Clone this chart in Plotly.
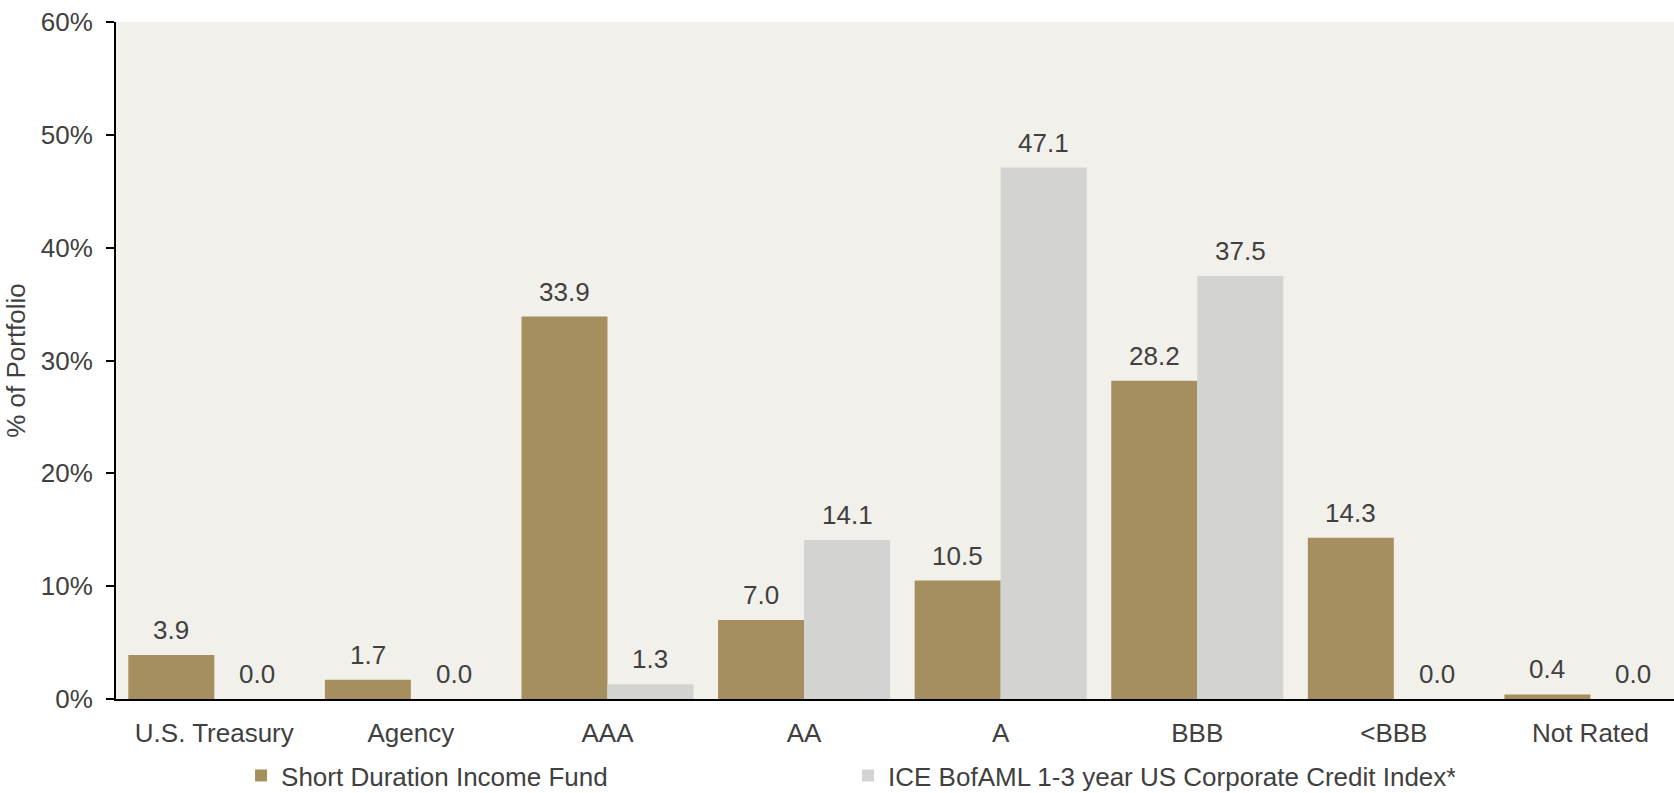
import plotly.graph_objects as go

categories = ["U.S. Treasury", "Agency", "AAA", "AA", "A", "BBB", "<BBB", "Not Rated"]
fund_values = [3.9, 1.7, 33.9, 7.0, 10.5, 28.2, 14.3, 0.4]
index_values = [0.0, 0.0, 1.3, 14.1, 47.1, 37.5, 0.0, 0.0]
fund_name = "Short Duration Income Fund"
index_name = "ICE BofAML 1-3 year US Corporate Credit Index*"
y_ticks = [0, 10, 20, 30, 40, 50, 60]
y_tick_labels = ["0%", "10%", "20%", "30%", "40%", "50%", "60%"]

FUND_COLOR = "#A58F5F"
INDEX_COLOR = "#D3D3D1"
TEXT_COLOR = "#404040"
FONT = "Arial, Liberation Sans, sans-serif"
FS = 26

xs = list(range(len(categories)))
fig = go.Figure()
fig.add_trace(go.Bar(x=xs, y=fund_values, name=fund_name, marker_color=FUND_COLOR,
                     marker_line_width=0))
fig.add_trace(go.Bar(x=xs, y=index_values, name=index_name, marker_color=INDEX_COLOR,
                     marker_line_width=0))

half = 0.875 / 4
for i, (f, v) in enumerate(zip(fund_values, index_values)):
    for xv, val in ((i - half, f), (i + half, v)):
        fig.add_annotation(x=xv, y=val, text=f"{val:.1f}", showarrow=False,
                           yanchor="bottom", yshift=8,
                           font=dict(family=FONT, size=FS, color=TEXT_COLOR))

fig.update_layout(
    width=1674, height=793,
    margin=dict(l=116, r=0, t=22, b=94, autoexpand=False),
    paper_bgcolor="white",
    plot_bgcolor="#F2F0EB",
    barmode="group", bargap=0.125, bargroupgap=0,
    font=dict(family=FONT, size=FS, color=TEXT_COLOR),
    showlegend=True,
    legend=dict(orientation="h", x=0.144, xref="container", xanchor="left",
                y=0.022, yref="container", yanchor="middle",
                entrywidth=562, entrywidthmode="pixels",
                font=dict(family=FONT, size=FS, color=TEXT_COLOR),
                bgcolor="rgba(0,0,0,0)", itemwidth=30, tracegroupgap=0),
    xaxis=dict(range=[-0.5, 7.425], tickmode="array", tickvals=xs, ticktext=categories,
               showgrid=False, zeroline=False, showline=True, linecolor="black",
               linewidth=2, ticks="", ticklabelstandoff=10,
               tickfont=dict(family=FONT, size=FS, color=TEXT_COLOR)),
    yaxis=dict(range=[0, 60], tickmode="array", tickvals=y_ticks, ticktext=y_tick_labels,
               showgrid=False, zeroline=False, showline=True, linecolor="black",
               linewidth=2, ticks="outside", ticklen=8, tickcolor="black", tickwidth=2,
               ticklabelstandoff=8,
               title=dict(text="% of Portfolio", standoff=8,
                          font=dict(family=FONT, size=FS, color=TEXT_COLOR)),
               tickfont=dict(family=FONT, size=FS, color=TEXT_COLOR)),
)

fig.write_html("out.html")
